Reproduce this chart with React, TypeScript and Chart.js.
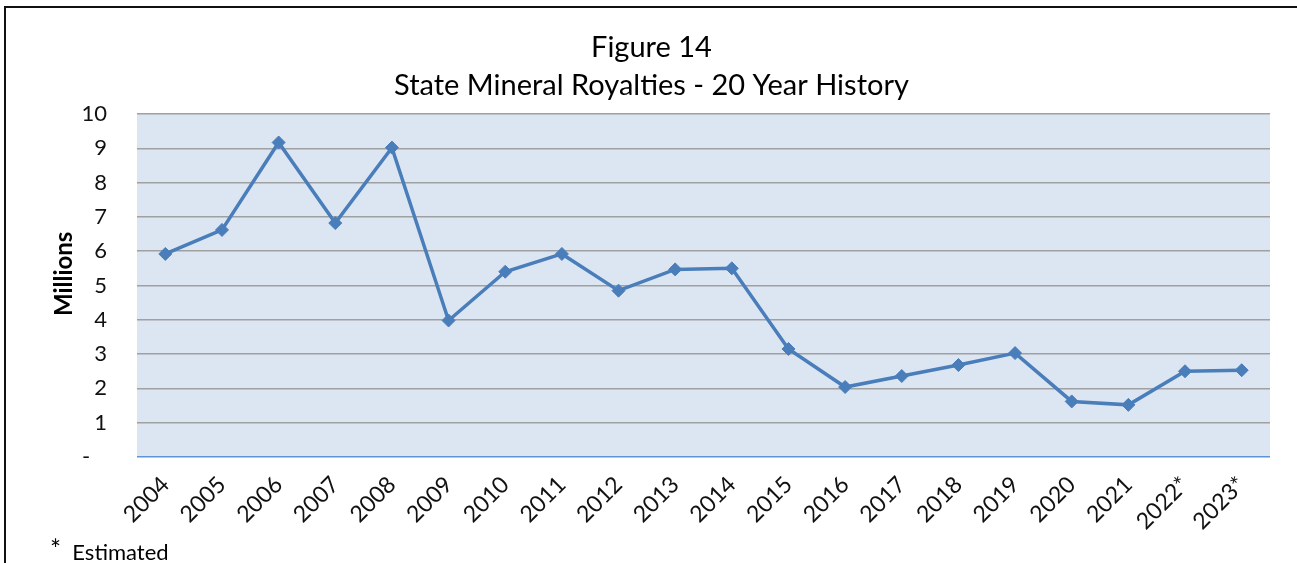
import React, { useEffect, useRef } from "react";
import { Chart, registerables } from "chart.js";

Chart.register(...registerables);

const years = ["2004","2005","2006","2007","2008","2009","2010","2011","2012","2013","2014","2015","2016","2017","2018","2019","2020","2021","2022*","2023*"];
const royalties = [5.92, 6.62, 9.17, 6.82, 9.02, 3.98, 5.40, 5.92, 4.85, 5.47, 5.50, 3.15, 2.04, 2.36, 2.68, 3.03, 1.62, 1.52, 2.50, 2.53];
const titleLines = ["Figure 14", "State Mineral Royalties - 20 Year History"];
const yAxisTitle = "Millions";
const footnoteMark = "*";
const footnoteText = "Estimated";

const FONT = "Lato, 'Open Sans', sans-serif";

const plotBg = {
  id: "plotBg",
  beforeDraw(chart: any) {
    const { ctx, chartArea } = chart;
    if (!chartArea) return;
    ctx.save();
    ctx.fillStyle = "#dce6f2";
    ctx.fillRect(chartArea.left, chartArea.top, chartArea.right - chartArea.left, chartArea.bottom - chartArea.top);
    ctx.restore();
  },
};

export default function App() {
  const ref = useRef<HTMLCanvasElement | null>(null);
  useEffect(() => {
    if (!ref.current) return;
    const chart = new Chart(ref.current, {
      type: "line",
      data: {
        labels: years,
        datasets: [
          {
            data: royalties,
            borderColor: "#4a7ebb",
            backgroundColor: "#4a7ebb",
            borderWidth: 3.5,
            pointStyle: "rectRot",
            pointRadius: 6.5,
            pointBorderWidth: 1,
            pointBackgroundColor: "#4a7ebb",
            pointBorderColor: "#4a7ebb",
            tension: 0,
          },
        ],
      },
      plugins: [plotBg],
      options: {
        animation: false,
        responsive: false,
        maintainAspectRatio: false,
        layout: { padding: { left: 33, right: 27, top: 0, bottom: 0 } },
        plugins: {
          legend: { display: false },
          tooltip: { enabled: false },
          title: {
            display: true,
            text: titleLines,
            color: "#000",
            font: { family: FONT, size: 29, weight: "normal", lineHeight: 38 / 29 },
            padding: { top: 29, bottom: 9 },
          },
        },
        scales: {
          x: {
            offset: true,
            grid: { display: false },
            border: { display: false },
            ticks: {
              color: "#111",
              font: { family: FONT, size: 23 },
              minRotation: 45,
              maxRotation: 45,
              autoSkip: false,
              padding: 6,
            },
            afterFit(scale: any) {
              scale.height = 106;
            },
          },
          y: {
            min: 0,
            max: 10,
            border: { display: false },
            grid: {
              drawTicks: false,
              lineWidth: 1.5,
              color: (c: any) => (c.tick && c.tick.value === 0 ? "#5f93d3" : "#a0a0a0"),
            },
            ticks: {
              stepSize: 1,
              color: "#111",
              font: { family: FONT, size: 22 },
              padding: 30,
              callback: (v: any) => (Number(v) === 0 ? "-   " : String(v)),
            },
            title: {
              display: true,
              text: "    " + yAxisTitle,
              color: "#000",
              font: { family: FONT, size: 24, weight: "bold" },
              padding: { top: 17, bottom: 0 },
            },
            afterFit(scale: any) {
              scale.width = 104;
            },
          },
        },
      },
    });
    return () => chart.destroy();
  }, []);

  return (
    <div style={{ position: "absolute", left: 0, top: 0, width: 1297, height: 563, overflow: "hidden", background: "#fff" }}>
      <div style={{ position: "absolute", left: 4, top: 6, width: 1400, height: 700, borderTop: "2px solid #111", borderLeft: "2px solid #111" }} />
      <canvas ref={ref} width={1297} height={563} style={{ position: "absolute", left: 0, top: 0, width: 1297, height: 563 }} />
      <div style={{ position: "absolute", left: 50, top: 537, fontFamily: FONT, fontSize: 22, color: "#000", whiteSpace: "pre", lineHeight: "26px" }}>
        <span style={{ fontSize: 26, position: "relative", top: -1 }}>{footnoteMark}</span>
        {"  " + footnoteText}
      </div>
    </div>
  );
}
